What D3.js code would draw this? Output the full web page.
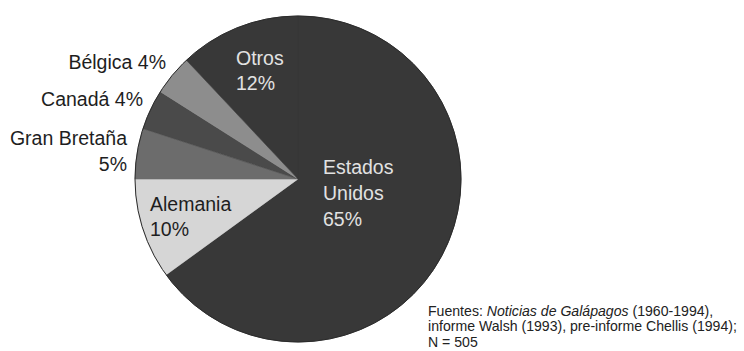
<!DOCTYPE html>
<html>
<head>
<meta charset="utf-8">
<script src="https://cdn.jsdelivr.net/npm/d3@7"></script>
<style>
  html, body { margin: 0; padding: 0; background: #fff; overflow: hidden; }
  svg { display: block; }
  text { font-family: "Liberation Sans", Arial, sans-serif; }
</style>
</head>
<body>
<svg id="chart" width="744" height="351"></svg>
<script>
// Origen de los visitantes (porcentaje)
const countries = ["Estados Unidos", "Alemania", "Gran Bretaña", "Canadá", "Bélgica", "Otros"];
const shares    = [65, 10, 5, 4, 4, 12];
const fills     = ["#383838", "#d6d6d6", "#6c6c6c", "#4a4a4a", "#8d8d8d", "#383838"];

const W = 744, H = 351;
const cx = 298, cy = 179, R = 163;

const svg = d3.select("#chart");
const g = svg.append("g").attr("transform", `translate(${cx},${cy})`);

const data = countries.map((c, i) => ({ country: c, value: shares[i], fill: fills[i] }));

const pie = d3.pie().sort(null).value(d => d.value);
const arc = d3.arc().innerRadius(0).outerRadius(R);
const arcs = pie(data);

g.selectAll("path.slice")
  .data(arcs)
  .join("path")
  .attr("class", "slice")
  .attr("d", arc)
  .attr("fill", d => d.data.fill)
  .attr("stroke", d => d.data.fill)
  .attr("stroke-width", 0.6);

// contorno del círculo
g.append("circle")
  .attr("r", R)
  .attr("fill", "none")
  .attr("stroke", "#2a2a2a")
  .attr("stroke-width", 1);

// rótulos: posición de cada bloque de texto (relativa a la página)
const labelSpecs = [
  { i: 0, lines: ["Estados", "Unidos", "65%"], x: 323, y: 174, anchor: "start", color: "#e2e2e2", lh: 26 },
  { i: 1, lines: ["Alemania", "10%"],          x: 150, y: 211, anchor: "start", color: "#1e1e1e", lh: 25 },
  { i: 2, lines: ["Gran Bretaña", "5%"],        x: 127, y: 145, anchor: "end",   color: "#1e1e1e", lh: 26 },
  { i: 3, lines: ["Canadá 4%"],                 x: 143, y: 106, anchor: "end",   color: "#1e1e1e", lh: 26 },
  { i: 4, lines: ["Bélgica 4%"],                x: 166, y: 69,  anchor: "end",   color: "#1e1e1e", lh: 26 },
  { i: 5, lines: ["Otros", "12%"],              x: 236, y: 65,  anchor: "start", color: "#e2e2e2", lh: 25 }
];

labelSpecs.forEach(s => {
  const t = svg.append("text")
    .attr("x", s.x)
    .attr("y", s.y)
    .attr("text-anchor", s.anchor)
    .attr("fill", s.color)
    .attr("font-size", 19.5);
  s.lines.forEach((ln, k) => {
    t.append("tspan")
      .attr("x", s.x)
      .attr("y", s.y + k * s.lh)
      .text(ln);
  });
});

// nota de fuentes
const noteSize = 14.1;
const note = svg.append("text")
  .attr("x", 428)
  .attr("y", 316)
  .attr("font-size", noteSize)
  .attr("fill", "#222");
note.append("tspan").text("Fuentes: ");
note.append("tspan").attr("font-style", "italic").text("Noticias de Galápagos");
note.append("tspan").text(" (1960-1994),");
svg.append("text")
  .attr("x", 428).attr("y", 331)
  .attr("font-size", noteSize).attr("fill", "#222")
  .text("informe Walsh (1993), pre-informe Chellis (1994);");
svg.append("text")
  .attr("x", 428).attr("y", 347)
  .attr("font-size", noteSize).attr("fill", "#222")
  .text("N = 505");
</script>
</body>
</html>
